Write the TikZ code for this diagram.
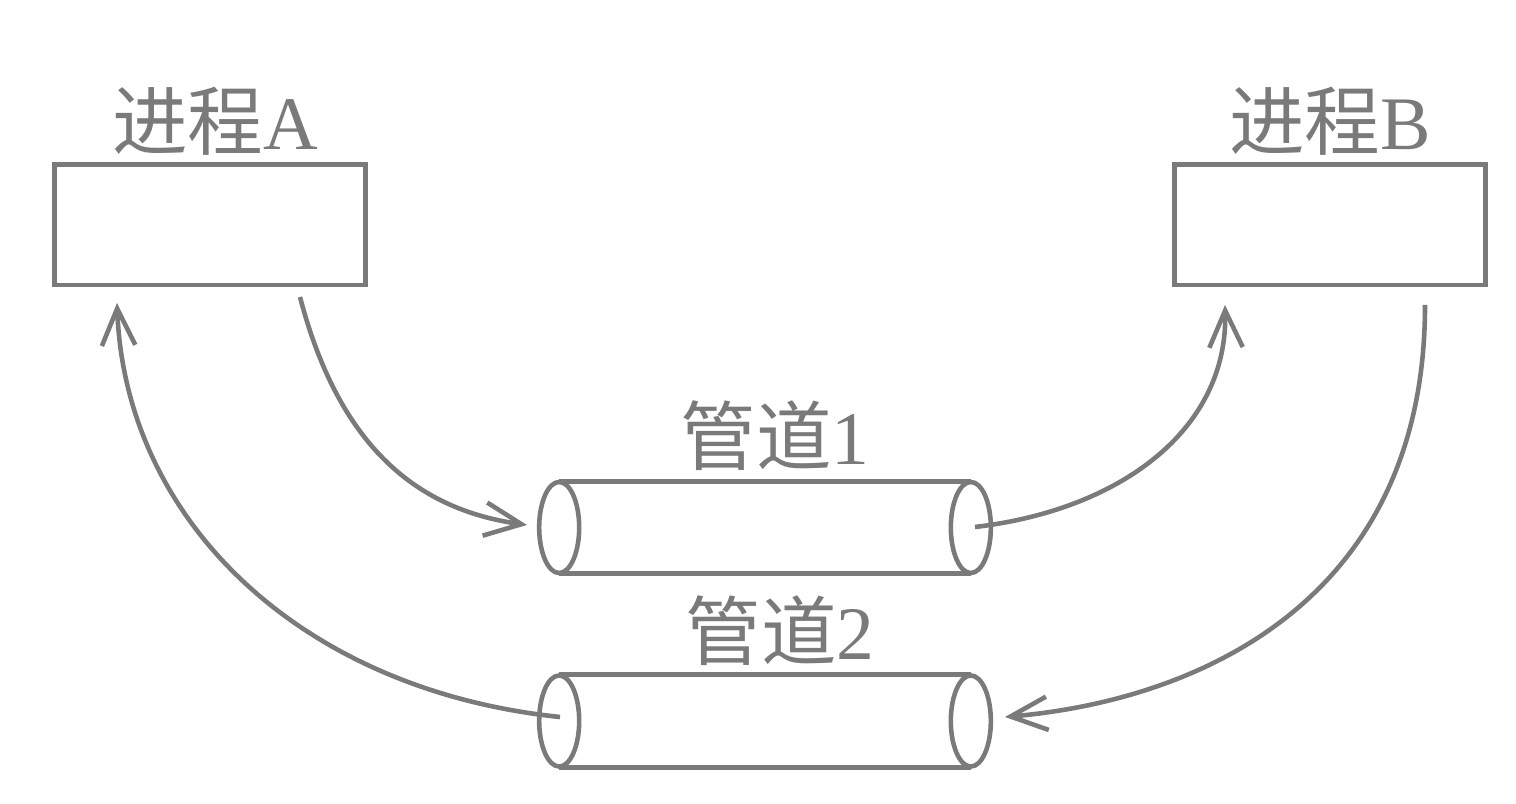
\documentclass[tikz,border=0pt]{standalone}
\usepackage{fontspec}
\setmainfont{Liberation Serif}
\newfontfamily\cjk{Noto Sans CJK SC}
\usetikzlibrary{arrows.meta}
\definecolor{lc}{HTML}{7A7A7A}
\begin{document}
\begin{tikzpicture}[x=0.01cm,y=-0.01cm,
  proc/.style={draw=lc,line width=1.4pt,minimum width=3.1cm,minimum height=1.2cm,inner sep=0pt},
  pipebox/.style={minimum width=4.1cm,minimum height=0.91cm,inner sep=0pt},
  lbl/.style={text=lc,font=\fontsize{21.5}{24}\selectfont,inner sep=0pt},
  pline/.style={draw=lc,line width=1.3pt},
  conn/.style={draw=lc,line width=1.3pt,-{Straight Barb[length=10.5pt,width=9.5pt,line width=1.3pt]}}]
\useasboundingbox (0,0) rectangle (1516,804);
% processes
\node[proc] (A) at (210,225) {};
\node[proc] (B) at (1330,225) {};
\node[lbl] (la) at (215,121) {{\cjk 进程}A};
\node[lbl] (lb) at (1330,121) {{\cjk 进程}B};
% pipes
\node[pipebox] (p1) at (765,527.5) {};
\node[pipebox] (p2) at (765,721) {};
\foreach \p in {p1,p2}{
  \draw[pline] (\p.north west) -- (\p.north east);
  \draw[pline] (\p.south west) -- (\p.south east);
  \draw[pline,fill=white] (\p.west) ellipse [x radius=0.2cm,y radius=0.455cm];
  \draw[pline,fill=white] (\p.east) ellipse [x radius=0.2cm,y radius=0.455cm];
}
\node[lbl] (l1) at (775,436) {{\cjk 管道}1};
\node[lbl] (l2) at (780,631) {{\cjk 管道}2};
% connectors
\coordinate (a1) at (300,297);
\coordinate (e1) at (527,525);
\coordinate (s2) at (975,527);
\coordinate (e2) at (1225,305);
\coordinate (s3) at (1425,305);
\coordinate (e3) at (1005,717);
\coordinate (s4) at (560,717);
\coordinate (e4) at (117,303);
\draw[conn] (a1) .. controls (340,450) and (420,510) .. (e1);
\draw[conn] (s2) .. controls (1120,510) and (1228,430) .. (e2);
\draw[conn] (s3) .. controls (1425,600) and (1200,700) .. (e3);
\draw[conn] (s4) .. controls (300,690) and (125,520) .. (e4);
\end{tikzpicture}
\end{document}
